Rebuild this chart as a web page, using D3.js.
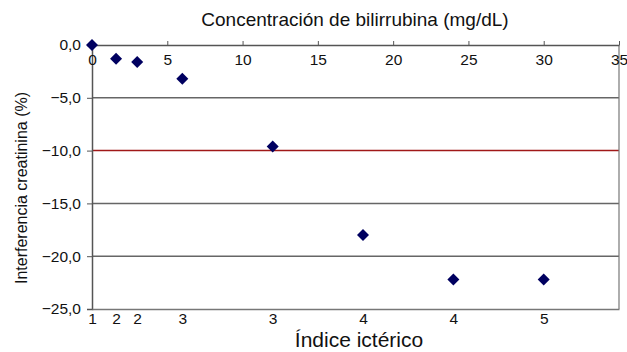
<!DOCTYPE html>
<html>
<head>
<meta charset="utf-8">
<script src="https://cdn.jsdelivr.net/npm/d3@7"></script>
<style>
  body { margin: 0; background: #fff; }
  text { font-family: "Liberation Sans", Arial, sans-serif; fill: #111; }
</style>
</head>
<body>
<div id="chart"></div>
<script>
// bilirubin concentration (mg/dL) on top axis
const bilirrubina = [0, 1.6, 3, 6, 12, 18, 24, 30];
// creatinine interference (%)
const interferencia = [0, -1.3, -1.6, -3.2, -9.6, -18.0, -22.2, -22.2];
// icteric index labels shown on bottom axis
const indiceIcterico = ['1', '2', '2', '3', '3', '4', '4', '5'];
const xTicks = [0, 5, 10, 15, 20, 25, 30, 35];
const yTicks = [0, -5, -10, -15, -20, -25];
const limite = -10;

const width = 627, height = 352;
const margin = { top: 45, right: 8, bottom: 43, left: 92 };
const w = 619 - margin.left;
const h = 309 - margin.top;
const tickFont = '15.5px';

const svg = d3.select('#chart').append('svg')
  .attr('width', width)
  .attr('height', height);

const g = svg.append('g')
  .attr('transform', `translate(${margin.left}, ${margin.top})`);

const x = d3.scaleLinear().domain([0, 35]).range([0, w]);
const y = d3.scaleLinear().domain([-25, 0]).range([h, 0]);

const fmt = d => d.toFixed(1).replace('.', ',').replace('-', '\u2212');

// gridlines
g.selectAll('.grid').data(yTicks.filter(d => d !== 0 && d !== -25 && d !== limite))
  .enter().append('line')
  .attr('x1', 0).attr('x2', w)
  .attr('y1', d => y(d)).attr('y2', d => y(d))
  .attr('stroke', '#666').attr('stroke-width', 1.5);

g.append('line')
  .attr('x1', 0).attr('x2', w)
  .attr('y1', y(limite)).attr('y2', y(limite))
  .attr('stroke', '#a01818').attr('stroke-width', 1.5);

// right border
g.append('line')
  .attr('x1', w).attr('x2', w).attr('y1', 0).attr('y2', h)
  .attr('stroke', '#777').attr('stroke-width', 1.2);

// left axis
const yAxis = g.append('g')
  .call(d3.axisLeft(y).tickValues(yTicks).tickFormat(fmt).tickSize(5).tickPadding(6));
yAxis.select('.domain').attr('stroke', '#555').attr('stroke-width', 1.5);
yAxis.selectAll('.tick line').attr('stroke', '#555');
yAxis.selectAll('text').style('font-size', tickFont)
  .style('font-family', '"Liberation Sans", Arial, sans-serif').attr('fill', '#111');

// top axis (ticks up, labels below line)
const xAxis = g.append('g')
  .call(d3.axisTop(x).tickValues(xTicks).tickSize(4).tickSizeOuter(0));
xAxis.select('.domain').attr('stroke', '#555').attr('stroke-width', 1.5);
xAxis.selectAll('.tick line').attr('stroke', '#555');
xAxis.selectAll('text')
  .attr('y', 20).attr('dy', 0)
  .style('font-size', tickFont)
  .style('font-family', '"Liberation Sans", Arial, sans-serif').attr('fill', '#111');

// bottom axis with icteric index
const bAxis = g.append('g')
  .attr('transform', `translate(0, ${h})`)
  .call(d3.axisBottom(x).tickValues(bilirrubina)
    .tickFormat((d, i) => indiceIcterico[i]).tickSize(0).tickSizeOuter(0));
bAxis.select('.domain').attr('stroke', '#777').attr('stroke-width', 1.5);
bAxis.selectAll('text')
  .attr('y', 15).attr('dy', 0)
  .style('font-size', tickFont)
  .style('font-family', '"Liberation Sans", Arial, sans-serif').attr('fill', '#111');

// points
const diamond = d3.symbol().type(d3.symbolSquare).size(72);
g.selectAll('.pt').data(bilirrubina.map((b, i) => ({ b, v: interferencia[i] })))
  .enter().append('path')
  .attr('d', diamond)
  .attr('transform', d => `translate(${x(d.b)}, ${y(d.v)}) rotate(45)`)
  .attr('fill', '#000060');

// titles
svg.append('text')
  .attr('x', 355).attr('y', 26)
  .attr('text-anchor', 'middle')
  .style('font-size', '19px')
  .text('Concentración de bilirrubina (mg/dL)');

svg.append('text')
  .attr('x', 359).attr('y', 347)
  .attr('text-anchor', 'middle')
  .style('font-size', '21px')
  .text('Índice ictérico');

svg.append('text')
  .attr('transform', 'translate(27, 188) rotate(-90)')
  .attr('text-anchor', 'middle')
  .style('font-size', '16px')
  .text('Interferencia creatinina (%)');
</script>
</body>
</html>
